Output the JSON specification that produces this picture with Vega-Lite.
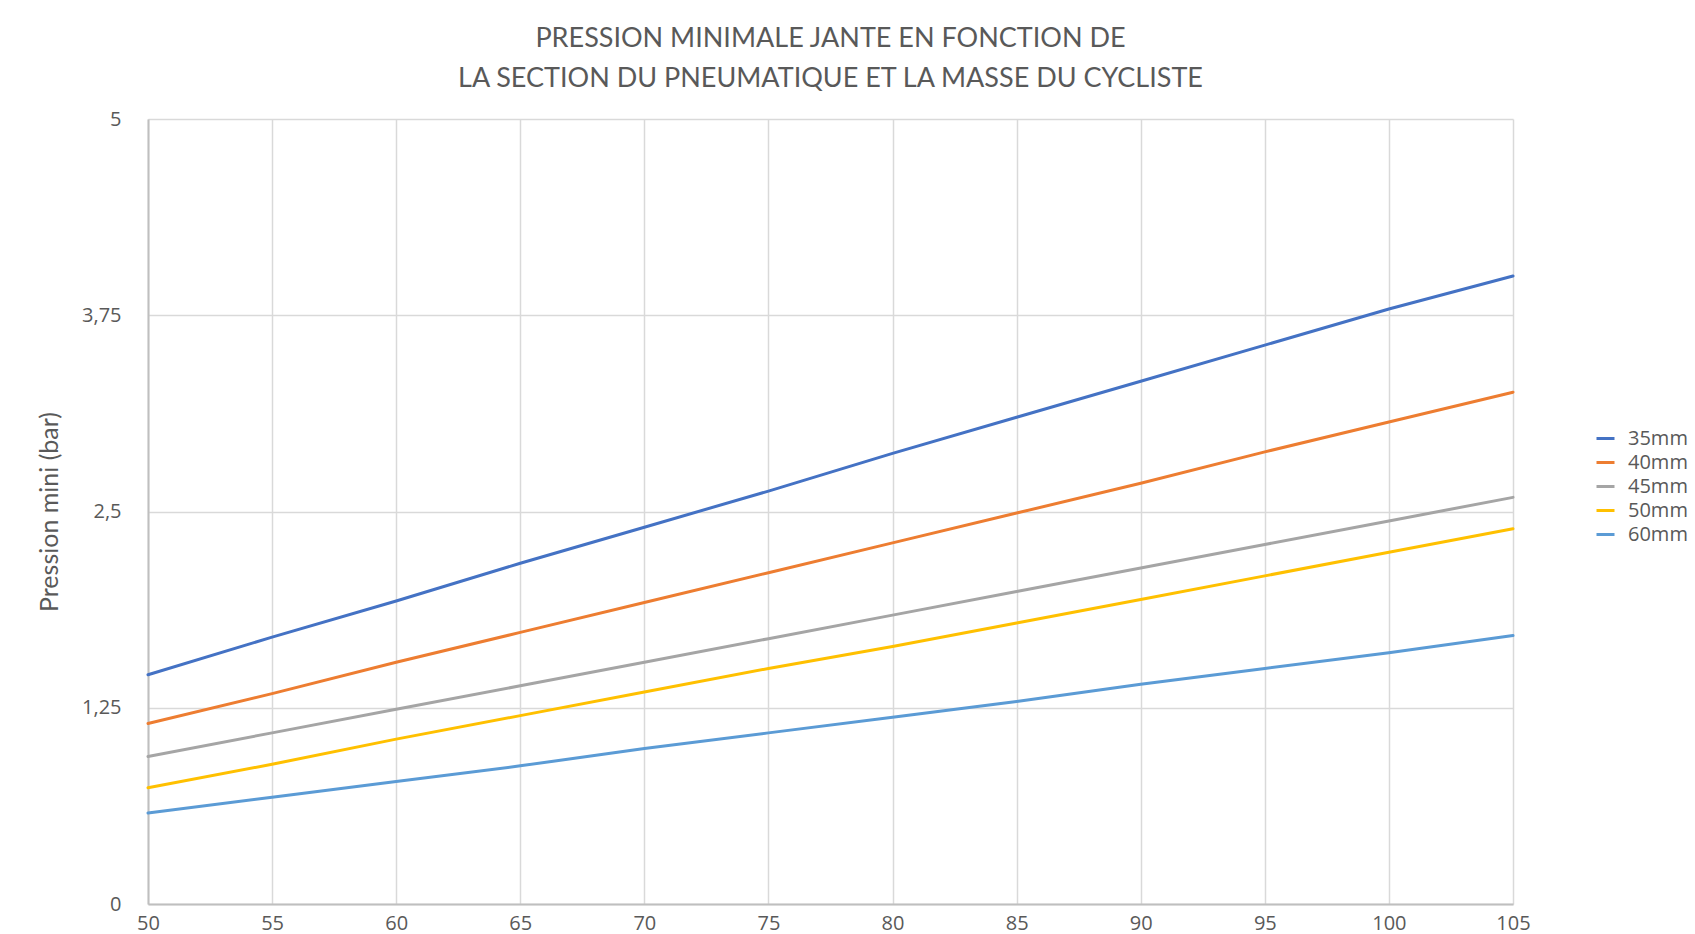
{
  "$schema": "https://vega.github.io/schema/vega-lite/v6.json",
  "autosize": {"type": "none"},
  "width": 1365,
  "height": 785,
  "padding": {"left": 148, "top": 119, "right": 182, "bottom": 30},
  "background": "white",
  "title": {
    "text": ["PRESSION MINIMALE JANTE EN FONCTION DE", "LA SECTION DU PNEUMATIQUE ET LA MASSE DU CYCLISTE"],
    "anchor": "middle",
    "frame": "group",
    "font": "Lato",
    "fontSize": 27,
    "fontWeight": "normal",
    "color": "#595959",
    "lineHeight": 40,
    "offset": 16
  },
  "data": {
    "values": [
      {"masse": 50, "section": "35mm", "pression": 1.46},
      {"masse": 55, "section": "35mm", "pression": 1.70},
      {"masse": 60, "section": "35mm", "pression": 1.93},
      {"masse": 65, "section": "35mm", "pression": 2.17},
      {"masse": 70, "section": "35mm", "pression": 2.40},
      {"masse": 75, "section": "35mm", "pression": 2.63},
      {"masse": 80, "section": "35mm", "pression": 2.87},
      {"masse": 85, "section": "35mm", "pression": 3.10},
      {"masse": 90, "section": "35mm", "pression": 3.33},
      {"masse": 95, "section": "35mm", "pression": 3.56},
      {"masse": 100, "section": "35mm", "pression": 3.79},
      {"masse": 105, "section": "35mm", "pression": 4.00},
      {"masse": 50, "section": "40mm", "pression": 1.15},
      {"masse": 55, "section": "40mm", "pression": 1.34},
      {"masse": 60, "section": "40mm", "pression": 1.54},
      {"masse": 65, "section": "40mm", "pression": 1.73},
      {"masse": 70, "section": "40mm", "pression": 1.92},
      {"masse": 75, "section": "40mm", "pression": 2.11},
      {"masse": 80, "section": "40mm", "pression": 2.30},
      {"masse": 85, "section": "40mm", "pression": 2.49},
      {"masse": 90, "section": "40mm", "pression": 2.68},
      {"masse": 95, "section": "40mm", "pression": 2.88},
      {"masse": 100, "section": "40mm", "pression": 3.07},
      {"masse": 105, "section": "40mm", "pression": 3.26},
      {"masse": 50, "section": "45mm", "pression": 0.94},
      {"masse": 55, "section": "45mm", "pression": 1.09},
      {"masse": 60, "section": "45mm", "pression": 1.24},
      {"masse": 65, "section": "45mm", "pression": 1.39},
      {"masse": 70, "section": "45mm", "pression": 1.54},
      {"masse": 75, "section": "45mm", "pression": 1.69},
      {"masse": 80, "section": "45mm", "pression": 1.84},
      {"masse": 85, "section": "45mm", "pression": 1.99},
      {"masse": 90, "section": "45mm", "pression": 2.14},
      {"masse": 95, "section": "45mm", "pression": 2.29},
      {"masse": 100, "section": "45mm", "pression": 2.44},
      {"masse": 105, "section": "45mm", "pression": 2.59},
      {"masse": 50, "section": "50mm", "pression": 0.74},
      {"masse": 55, "section": "50mm", "pression": 0.89},
      {"masse": 60, "section": "50mm", "pression": 1.05},
      {"masse": 65, "section": "50mm", "pression": 1.20},
      {"masse": 70, "section": "50mm", "pression": 1.35},
      {"masse": 75, "section": "50mm", "pression": 1.50},
      {"masse": 80, "section": "50mm", "pression": 1.64},
      {"masse": 85, "section": "50mm", "pression": 1.79},
      {"masse": 90, "section": "50mm", "pression": 1.94},
      {"masse": 95, "section": "50mm", "pression": 2.09},
      {"masse": 100, "section": "50mm", "pression": 2.24},
      {"masse": 105, "section": "50mm", "pression": 2.39},
      {"masse": 50, "section": "60mm", "pression": 0.58},
      {"masse": 55, "section": "60mm", "pression": 0.68},
      {"masse": 60, "section": "60mm", "pression": 0.78},
      {"masse": 65, "section": "60mm", "pression": 0.88},
      {"masse": 70, "section": "60mm", "pression": 0.99},
      {"masse": 75, "section": "60mm", "pression": 1.09},
      {"masse": 80, "section": "60mm", "pression": 1.19},
      {"masse": 85, "section": "60mm", "pression": 1.29},
      {"masse": 90, "section": "60mm", "pression": 1.40},
      {"masse": 95, "section": "60mm", "pression": 1.50},
      {"masse": 100, "section": "60mm", "pression": 1.60},
      {"masse": 105, "section": "60mm", "pression": 1.71}
    ]
  },
  "mark": {"type": "line", "strokeWidth": 3, "strokeCap": "round"},
  "encoding": {
    "x": {
      "field": "masse",
      "type": "quantitative",
      "scale": {"domain": [50, 105], "nice": false, "zero": false},
      "axis": {
        "title": null,
        "values": [50, 55, 60, 65, 70, 75, 80, 85, 90, 95, 100, 105],
        "labelFont": "Open Sans",
        "labelFontSize": 20,
        "labelColor": "#595959",
        "labelPadding": 9,
        "ticks": false,
        "domainColor": "#BFBFBF",
        "domainWidth": 2,
        "gridColor": "#D9D9D9",
        "gridWidth": 1.5,
        "labelFlush": false
      }
    },
    "y": {
      "field": "pression",
      "type": "quantitative",
      "scale": {"domain": [0, 5], "nice": false},
      "axis": {
        "title": "Pression mini (bar)",
        "titleFont": "Lato",
        "titleFontSize": 25,
        "titleFontWeight": "normal",
        "titleColor": "#595959",
        "titlePadding": 19,
        "values": [0, 1.25, 2.5, 3.75, 5],
        "labelExpr": "replace(format(datum.value, '~g'), '.', ',')",
        "labelFont": "Open Sans",
        "labelFontSize": 20,
        "labelColor": "#595959",
        "labelPadding": 27,
        "ticks": false,
        "domainColor": "#BFBFBF",
        "domainWidth": 2,
        "gridColor": "#D9D9D9",
        "gridWidth": 1.5,
        "labelFlush": false
      }
    },
    "color": {
      "field": "section",
      "type": "nominal",
      "scale": {
        "domain": ["35mm", "40mm", "45mm", "50mm", "60mm"],
        "range": ["#4472C4", "#ED7D31", "#A5A5A5", "#FFC000", "#5B9BD5"]
      },
      "legend": {
        "title": null,
        "orient": "none",
        "legendX": 1447,
        "legendY": 309,
        "symbolType": "stroke",
        "symbolSize": 324,
        "symbolStrokeWidth": 3,
        "labelFont": "Open Sans",
        "labelFontSize": 20,
        "labelColor": "#595959",
        "labelOffset": 12,
        "rowPadding": 3
      }
    }
  },
  "config": {"view": {"stroke": null}}
}
